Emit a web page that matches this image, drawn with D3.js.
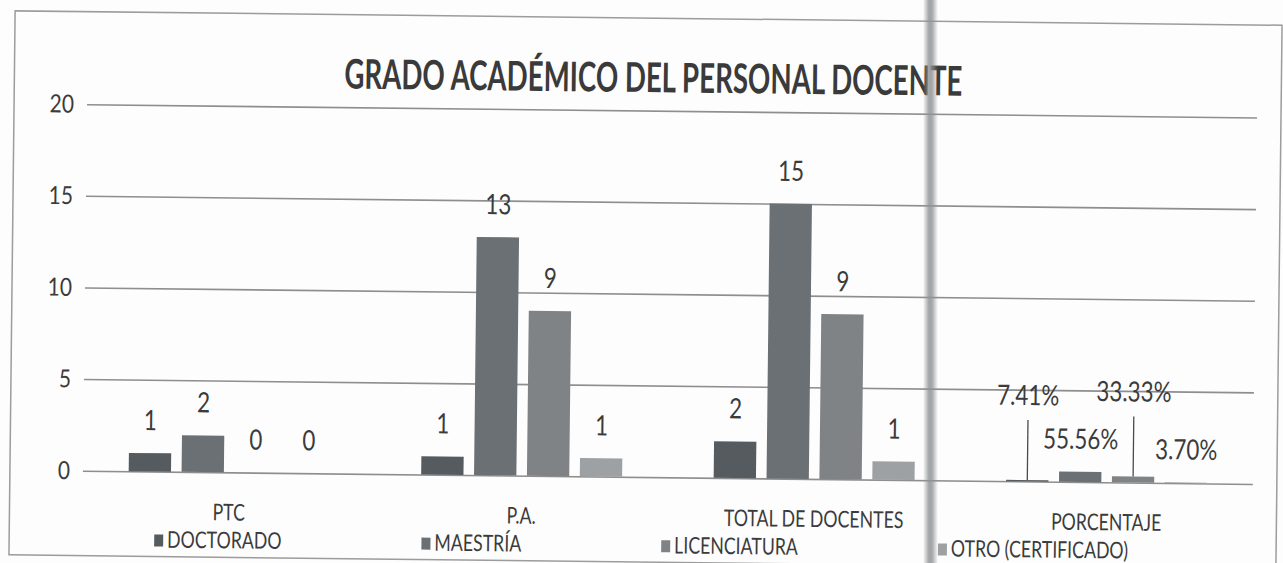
<!DOCTYPE html>
<html>
<head>
<meta charset="utf-8">
<script src="https://cdn.jsdelivr.net/npm/d3@7"></script>
<style>
  body { margin: 0; background: #fdfdfd; }
  svg { display: block; }
</style>
</head>
<body>
<svg id="chart" width="1283" height="563"></svg>
<script>
// ---- data ----
const categories = ["PTC", "P.A.", "TOTAL DE DOCENTES", "PORCENTAJE"];
const series = ["DOCTORADO", "MAESTRÍA", "LICENCIATURA", "OTRO (CERTIFICADO)"];
const doctorado    = [1, 1, 2, 0.0741];
const maestria     = [2, 13, 15, 0.5556];
const licenciatura = [0, 9, 9, 0.3333];
const otro         = [0, 1, 1, 0.0370];
const yTicks = [0, 5, 10, 15, 20];
const chartTitle = "GRADO ACADÉMICO DEL PERSONAL DOCENTE";
const percentCategory = "PORCENTAJE";

const seriesValues = [doctorado, maestria, licenciatura, otro];

// ---- look ----
const W = 1283, H = 563;
const FONT = "Lato, 'Open Sans', sans-serif";
const TEXT = "#3b3b3b";
const SQUEEZE = 0.77;          // condensed lettering
const colors = d3.scaleOrdinal().domain(series)
  .range(["#565b5f", "#6b7074", "#7f8386", "#9ea1a3"]);

function condense(sel, k = SQUEEZE) {
  sel.each(function () {
    const len = this.getComputedTextLength();
    d3.select(this).attr("textLength", len * k).attr("lengthAdjust", "spacingAndGlyphs");
  });
}

const svg = d3.select("#chart");
svg.append("rect").attr("width", W).attr("height", H).attr("fill", "#fdfdfd");

// the printed sheet sits slightly askew
const sheet = svg.append("g").attr("transform", "rotate(0.65 641 290)");

sheet.append("rect")
  .attr("x", 12).attr("y", 18).attr("width", 1267).attr("height", 544)
  .attr("fill", "none").attr("stroke", "#9c9c9c").attr("stroke-width", 1.5);

// ---- scales ----
const plotLeft = 85, plotRight = 1255;
const x0 = d3.scaleBand().domain(categories)
  .range([plotLeft, plotRight]).paddingInner(0.313).paddingOuter(0.1565);
const x1 = d3.scaleBand().domain(series)
  .range([0, x0.bandwidth()]).paddingInner(0.2);
const y = d3.scaleLinear().domain([0, 20]).range([477, 110.5]);

// ---- gridlines + y labels ----
const yAxis = sheet.append("g")
  .attr("transform", `translate(${plotLeft},0)`)
  .call(d3.axisLeft(y).tickValues(yTicks).tickSize(-(plotRight - plotLeft)).tickPadding(13));
yAxis.select(".domain").remove();
yAxis.selectAll(".tick line").attr("stroke", "#8e8e8e").attr("stroke-width", 1.6);
yAxis.selectAll(".tick text")
  .attr("font-family", FONT).attr("font-size", 25).attr("fill", TEXT)
  .call(condense, 0.84);

// ---- title ----
sheet.append("text")
  .attr("x", 651).attr("y", 92)
  .attr("text-anchor", "middle")
  .attr("font-family", FONT).attr("font-weight", "bold").attr("font-size", 41)
  .attr("fill", "#3a3a3a")
  .attr("textLength", 618).attr("lengthAdjust", "spacingAndGlyphs")
  .text(chartTitle);

// ---- bars ----
const rows = [];
categories.forEach((c, i) => {
  series.forEach((s, j) => rows.push({ cat: c, ser: s, v: seriesValues[j][i] }));
});

const groups = sheet.append("g").selectAll("g")
  .data(categories).join("g")
  .attr("transform", c => `translate(${x0(c)},0)`);

groups.selectAll("rect")
  .data(c => rows.filter(r => r.cat === c))
  .join("rect")
  .attr("x", d => x1(d.ser))
  .attr("width", x1.bandwidth())
  .attr("y", d => y(d.v))
  .attr("height", d => y(0) - y(d.v))
  .attr("fill", d => colors(d.ser));

// ---- value labels ----
const fmtInt = d3.format("d");
const fmtPct = d3.format(".2%");
// labels in the percentage group that are lifted and tied back with a leader
const lifted = new Set(["DOCTORADO", "LICENCIATURA"]);
const liftBy = 52;

groups.each(function (c) {
  const g = d3.select(this);
  rows.filter(r => r.cat === c).forEach(d => {
    const cx = x1(d.ser) + x1.bandwidth() / 2;
    let base = y(d.v) - 23;
    const isPct = c === percentCategory;
    if (isPct && lifted.has(d.ser)) {
      base -= liftBy;
      g.append("line")
        .attr("x1", cx).attr("x2", cx)
        .attr("y1", base + 15).attr("y2", y(d.v))
        .attr("stroke", "#4a4a4a").attr("stroke-width", 1.3);
    }
    g.append("text")
      .attr("x", cx).attr("y", base)
      .attr("text-anchor", "middle")
      .attr("font-family", FONT).attr("font-size", 28)
      .attr("fill", TEXT)
      .text(isPct ? fmtPct(d.v) : fmtInt(d.v))
      .call(condense, 0.8);
  });
});

// ---- category labels ----
sheet.append("g").selectAll("text")
  .data(categories).join("text")
  .attr("x", c => x0(c) + x0.bandwidth() / 2)
  .attr("y", 525)
  .attr("text-anchor", "middle")
  .attr("font-family", FONT).attr("font-size", 23)
  .attr("fill", TEXT)
  .text(c => c)
  .call(condense);

// ---- legend ----
const legend = sheet.append("g");
const items = legend.selectAll("g").data(series).join("g");
items.append("rect")
  .attr("y", 540).attr("width", 9).attr("height", 12)
  .attr("fill", s => colors(s));
items.append("text")
  .attr("x", 13).attr("y", 553)
  .attr("font-family", FONT).attr("font-size", 23)
  .attr("fill", TEXT)
  .text(s => s)
  .call(condense);
const gap = 140;
const widths = [];
items.each(function () {
  const t = d3.select(this).select("text");
  widths.push(13 + +t.attr("textLength"));
});
const total = d3.sum(widths) + gap * (widths.length - 1);
let cursor = 644 - total / 2;
items.attr("transform", (s, i) => {
  const t = `translate(${cursor},0)`;
  cursor += widths[i] + gap;
  return t;
});

// ---- page crease shadow ----
const defs = svg.append("defs");
const grad = defs.append("linearGradient").attr("id", "crease").attr("x1", 0).attr("x2", 1);
grad.append("stop").attr("offset", 0).attr("stop-color", "#909394").attr("stop-opacity", 0);
grad.append("stop").attr("offset", 0.4).attr("stop-color", "#909394").attr("stop-opacity", 0.85);
grad.append("stop").attr("offset", 0.6).attr("stop-color", "#909394").attr("stop-opacity", 0.8);
grad.append("stop").attr("offset", 1).attr("stop-color", "#909394").attr("stop-opacity", 0);
svg.append("rect").attr("x", 923).attr("y", 0).attr("width", 15).attr("height", H)
  .attr("fill", "url(#crease)");
</script>
</body>
</html>
